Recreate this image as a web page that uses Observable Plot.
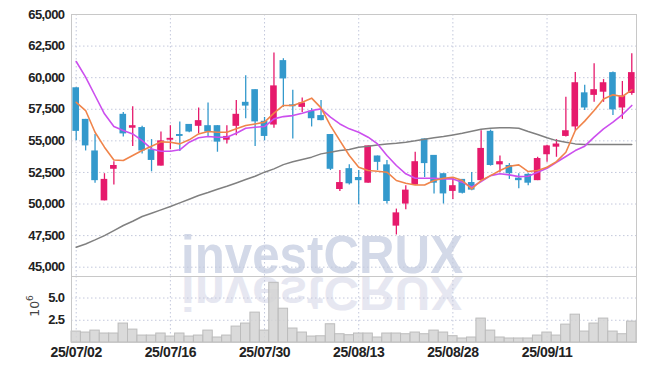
<!DOCTYPE html>
<html>
<head>
<meta charset="utf-8">
<script src="https://cdn.jsdelivr.net/npm/d3@7"></script>
<script src="https://cdn.jsdelivr.net/npm/@observablehq/plot@0.6"></script>
<style>
  html, body { margin: 0; padding: 0; background: #fff; }
  #wrap { position: relative; width: 645px; height: 370px; overflow: hidden; }
  #bg { position: absolute; left: 0; top: 0; z-index: 0; }
  .chart { position: relative; z-index: 1; }
  #vol g[aria-label^="x-axis"] text { font-size: 14px; letter-spacing: -0.4px; }
</style>
</head>
<body>
<div id="wrap">
  <svg id="bg" width="645" height="370" xmlns="http://www.w3.org/2000/svg">
    <text x="181" y="273" font-family="'Liberation Sans', Arial, sans-serif" font-weight="bold" font-size="54" fill="#d3d9e8" textLength="282" lengthAdjust="spacingAndGlyphs">investCRUX</text>
    <text x="181" y="273" transform="translate(0,522.7) scale(1,-0.9)" font-family="'Liberation Sans', Arial, sans-serif" font-weight="bold" font-size="54" fill="#e6e7f1" textLength="282" lengthAdjust="spacingAndGlyphs">investCRUX</text>
    <text transform="translate(38.5,306) rotate(-90)" text-anchor="middle" font-family="'DejaVu Sans', sans-serif" font-size="12.5" fill="#444">10<tspan dy="-6" font-size="9">6</tspan></text>
  </svg>
  <div id="price" class="chart"></div>
  <div id="vol" class="chart" style="margin-top:-1px"></div>
</div>
<script>
const dates = [
  "25/07/02","25/07/03","25/07/04","25/07/07","25/07/08","25/07/09","25/07/10","25/07/11","25/07/14","25/07/15",
  "25/07/16","25/07/17","25/07/18","25/07/21","25/07/22","25/07/23","25/07/24","25/07/25","25/07/28","25/07/29",
  "25/07/30","25/07/31","25/08/01","25/08/04","25/08/05","25/08/06","25/08/07","25/08/08","25/08/11","25/08/12",
  "25/08/13","25/08/14","25/08/18","25/08/19","25/08/20","25/08/21","25/08/22","25/08/25","25/08/26","25/08/27",
  "25/08/28","25/08/29","25/09/01","25/09/02","25/09/03","25/09/04","25/09/05","25/09/08","25/09/09","25/09/10",
  "25/09/11","25/09/12","25/09/15","25/09/16","25/09/17","25/09/18","25/09/19","25/09/22","25/09/23","25/09/24"
];
const tickDates = ["25/07/02","25/07/16","25/07/30","25/08/13","25/08/28","25/09/11"];
const priceTicks = [45000, 47500, 50000, 52500, 55000, 57500, 60000, 62500, 65000];
const volumeTicks = [2.5, 5.0];

const open = [59200,56700,54200,50250,52750,57100,56000,56050,54300,53000,
  55050,55500,56300,56150,56200,56200,55050,56150,58050,59050,
  56550,56250,61350,57850,57650,57350,57000,55500,51150,52800,
  52100,51650,53800,53100,48250,50000,51500,55150,53850,52400,
  51000,51950,51700,51850,55750,53100,53050,52050,52350,51850,
  53900,54500,55350,56100,58800,58600,58850,60400,57600,58750];
const high = [59200,56700,55500,52400,53350,57250,57700,56150,55100,55700,
  56200,56500,56300,57600,58000,56200,56200,58200,60150,59050,
  56850,61950,61500,59000,58400,57550,58200,55500,52650,53100,
  52650,54600,53800,53450,49600,51450,54100,55150,53850,52400,
  52100,51950,52500,55800,55850,53800,53200,52400,52400,53700,
  54650,55100,58450,60400,59400,61100,59850,60450,59700,61900];
const low = [55000,54200,51650,50250,51500,55300,54550,53950,52550,53000,
  54300,54150,55650,55550,55300,54100,54750,55400,56750,54550,
  55000,56000,57650,55150,57250,56100,56600,52650,51000,51500,
  49950,51650,52650,50000,47550,49550,51500,52100,50800,50000,
  50350,50800,51050,51850,53000,52500,51950,51200,51450,51850,
  53300,53700,55300,55800,57400,58050,58050,57000,56700,58600];
const close = [55750,54600,51850,51950,53050,55550,56200,54200,53450,55000,
  55200,55350,55700,56600,55700,54900,55350,57100,57750,56500,
  55350,59350,59900,57700,58000,56750,56600,52750,51700,51600,
  51850,54600,53300,50200,49300,51100,53350,53200,51650,50800,
  51450,50850,51100,54400,53050,53350,52400,51850,51650,53600,
  54600,54750,55800,59600,57600,59050,59600,57450,58550,60400];
const volume = [1.23,1.12,1.34,1.01,1.01,2.13,1.45,0.78,0.78,1.01,
  0.67,1.01,0.67,0.78,1.34,0.56,0.78,1.79,2.13,3.36,
  1.34,6.71,3.80,1.57,1.12,0.67,0.70,2.05,0.93,0.82,
  1.01,1.01,0.56,1.01,1.01,0.93,1.12,0.93,1.34,1.12,
  0.71,0.45,0.56,2.69,1.34,0.56,0.45,0.45,0.45,0.78,
  1.12,0.78,2.01,3.13,1.23,2.13,2.69,1.23,0.93,2.35];
const ma5 = [58050,57400,55680,54500,53490,53440,53840,54230,54580,54920,
  54890,54760,55080,55550,55740,55680,55680,55950,56210,56340,
  56480,57190,57800,57800,58060,58380,57610,56210,55020,53840,
  52910,52650,52600,52520,51860,51650,51510,51510,51860,52040,
  52120,51860,51200,51860,52250,52650,52990,53100,52570,52650,
  52910,53360,54100,55820,56560,57400,58320,58640,58510,59040];
const ma20 = [61280,60040,58590,57140,56130,55820,55550,55020,54360,54180,
  54180,54290,54890,55240,55340,55290,55290,55600,56000,56080,
  56130,56740,56920,57000,57190,57400,57530,56870,56340,55950,
  55680,55290,54760,53840,53050,52390,52040,52040,52040,51990,
  51990,51730,51330,51780,52250,52390,52310,52170,52200,52520,
  52830,53310,53760,54230,54580,55290,55950,56480,57080,57800];
const ma60 = [46580,46840,47160,47500,47900,48300,48640,49010,49270,49540,
  49800,50090,50380,50670,50910,51170,51410,51670,51940,52200,
  52520,52780,53120,53340,53520,53710,53970,54100,54230,54310,
  54500,54580,54680,54760,54810,54890,55000,55130,55240,55340,
  55470,55600,55760,55920,56000,56030,56030,56000,55740,55500,
  55240,55020,54890,54760,54710,54710,54710,54710,54710,54710];

const rows = dates.map((date, i) => ({
  date, open: open[i], high: high[i], low: low[i], close: close[i],
  volume: volume[i], ma5: ma5[i], ma20: ma20[i], ma60: ma60[i]
}));
const up = rows.filter(d => d.close >= d.open);
const down = rows.filter(d => d.close < d.open);

const UP = "#e61a6c", DOWN = "#3399cc";
const GRID = "#c3c8dc";
const FONT = "'Liberation Sans', Arial, sans-serif";
const STYLE = {fontFamily: FONT, fontSize: "13px", fontWeight: "bold", letterSpacing: "-0.6px", color: "#222", background: "transparent"};

const price = Plot.plot({
  width: 645, height: 277,
  marginTop: 14, marginBottom: 1, marginLeft: 71, marginRight: 9,
  style: STYLE,
  x: {type: "band", domain: dates, padding: 0, round: false, axis: null},
  y: {domain: [44264, 65000], ticks: priceTicks, tickFormat: d3.format(","), tickSize: 0, tickPadding: 7, label: null},
  marks: [
    Plot.ruleY(priceTicks, {stroke: GRID, strokeDasharray: "1.5,2.5"}),
    Plot.ruleX(tickDates, {x: d => d, stroke: GRID, strokeDasharray: "1.5,2.5"}),
    Plot.ruleX(up, {x: "date", y1: "low", y2: "high", stroke: UP, strokeWidth: 1.3}),
    Plot.ruleX(down, {x: "date", y1: "low", y2: "high", stroke: DOWN, strokeWidth: 1.3}),
    Plot.barY(up, {x: "date", y1: "open", y2: "close", fill: UP, insetLeft: 1.4, insetRight: 1.4}),
    Plot.barY(down, {x: "date", y1: "close", y2: "open", fill: DOWN, insetLeft: 1.4, insetRight: 1.4}),
    Plot.line(rows, {x: "date", y: "ma60", stroke: "#808080", strokeWidth: 1.5}),
    Plot.line(rows, {x: "date", y: "ma20", stroke: "#cc4fee", strokeWidth: 1.6}),
    Plot.line(rows, {x: "date", y: "ma5", stroke: "#f0844a", strokeWidth: 1.6}),
    Plot.frame({stroke: "#c8c8c8"})
  ]
});
document.getElementById("price").appendChild(price);

const vol = Plot.plot({
  width: 645, height: 94,
  marginTop: 0, marginBottom: 28, marginLeft: 71, marginRight: 9,
  style: STYLE,
  x: {type: "band", domain: dates, padding: 0, round: false, ticks: tickDates, tickSize: 0, tickPadding: 5, label: null},
  y: {domain: [0, 7.42], ticks: volumeTicks, tickFormat: d3.format(".1f"), tickSize: 0, tickPadding: 7, label: null},
  marks: [
    Plot.ruleY(volumeTicks, {stroke: GRID, strokeDasharray: "1.5,2.5"}),
    Plot.ruleX(tickDates, {x: d => d, stroke: GRID, strokeDasharray: "1.5,2.5"}),
    Plot.barY(rows, {x: "date", y: "volume", fill: "#d4d4d4", fillOpacity: 0.85, stroke: "#bcbcbc", strokeWidth: 1}),
    Plot.frame({stroke: "#c8c8c8"})
  ]
});
document.getElementById("vol").appendChild(vol);
</script>
</body>
</html>
